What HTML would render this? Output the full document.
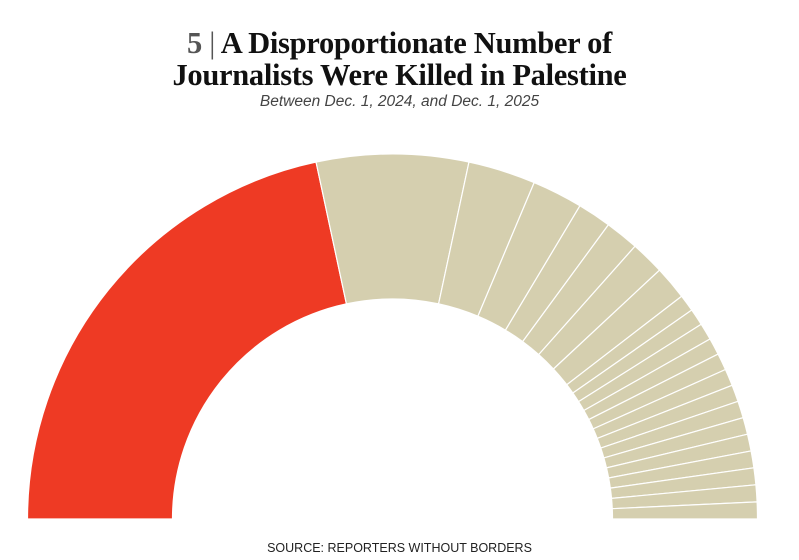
<!DOCTYPE html>
<html><head><meta charset="utf-8"><style>
body{margin:0;background:#fff;width:799px;height:560px;overflow:hidden;position:relative;font-family:"Liberation Sans",sans-serif}
.t{position:absolute;left:0;width:799px;text-align:center;font-family:"Liberation Serif",serif;font-weight:bold;font-size:30.5px;color:#111;letter-spacing:-0.3px}
.sub{position:absolute;left:0;width:799px;text-align:center;top:93px;font-style:italic;font-size:15.5px;color:#444}
.src{position:absolute;left:0;width:799px;text-align:center;top:541px;font-size:12.5px;color:#222}
</style></head><body>
<div class="t" style="top:26px"><span style="color:#555">5</span> <span style="color:#555;font-weight:normal">|</span> A Disproportionate Number of</div>
<div class="t" style="top:58px">Journalists Were Killed in Palestine</div>
<div class="sub">Between Dec. 1, 2024, and Dec. 1, 2025</div>
<svg id="s" width="799" height="560" style="position:absolute;left:0;top:0"></svg>
<div class="src">SOURCE: REPORTERS WITHOUT BORDERS</div>
<script>
var v=[29,9,4,3,2,2,2,2,1,1,1,1,1,1,1,1,1,1,1,1,1,1];
var tot=v.reduce((a,b)=>a+b,0),cx=392.5,cy=519,R=365,r=220,a=Math.PI,h='';
function p(ang,rad){return (cx+rad*Math.cos(ang)).toFixed(2)+','+(cy-rad*Math.sin(ang)).toFixed(2)}
v.forEach(function(n,i){var b=a-n/tot*Math.PI;
h+='<path d="M'+p(a,r)+'L'+p(a,R)+'A'+R+','+R+' 0 0 1 '+p(b,R)+'L'+p(b,r)+'A'+r+','+r+' 0 0 0 '+p(a,r)+'Z" fill="'+(i?'#d5cfaf':'#ee3a24')+'" stroke="#fff" stroke-width="1.2"/>';a=b;});
document.getElementById('s').innerHTML=h;
</script>
</body></html>
